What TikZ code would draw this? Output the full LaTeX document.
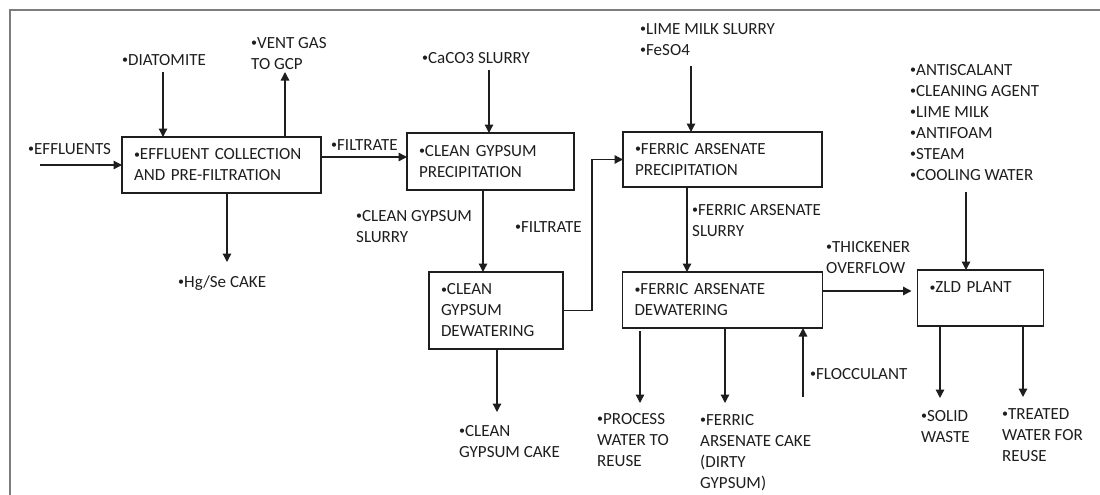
\documentclass[tikz,border=0pt]{standalone}
\usepackage{fontspec}
\setmainfont{Carlito}
\usetikzlibrary{positioning,arrows.meta}
\definecolor{linie}{RGB}{30,30,30}
\definecolor{chenar}{RGB}{125,125,125}
\newcommand{\blt}{{\fontsize{12}{12}\selectfont\raisebox{1.5pt}{•}}}
\tikzset{
  unitbox/.style   = {draw=linie, line width=1.3pt, align=left, text=linie, outer sep=0pt,
                      inner xsep=12pt, inner ysep=3pt, font=\fontsize{17}{21}\selectfont},
  lbl/.style       = {anchor=north west, inner sep=0pt, align=left, text=linie,
                      font=\fontsize{17}{21}\selectfont},
  flow/.style      = {-{Triangle[length=8.5pt,width=8.5pt]}, line width=1.3pt, draw=linie},
  frameline/.style = {draw=chenar, line width=2.5pt}
}
\begin{document}
\begin{tikzpicture}[x=1pt, y=-1pt]
    \fill[white] (0,0) rectangle (1100,495);
    \useasboundingbox (0,0) rectangle (1100,495);
    \draw[frameline] (1100,10) -- (10,10) -- (10,495);

    \node[unitbox, text width=175pt, minimum height=56pt] (b1) at (221.5,165) {\blt EFFLUENT COLLECTION\\ AND PRE-FILTRATION};
    \node[unitbox, text width=143pt, minimum height=57pt, right=86pt of b1, yshift=3.5pt] (b2) {\blt CLEAN GYPSUM\\ PRECIPITATION};
    \node[unitbox, text width=110pt, minimum height=77pt, below=82pt of b2, xshift=5.5pt] (b3) {\blt CLEAN\\ GYPSUM\\ DEWATERING};
    \node[unitbox, text width=175pt, minimum height=55pt, right=49pt of b2, yshift=2pt] (b4) {\blt FERRIC ARSENATE\\ PRECIPITATION};
    \node[unitbox, text width=176pt, minimum height=56pt, below=85pt of b4] (b5) {\blt FERRIC ARSENATE\\ DEWATERING};
    \node[unitbox, text width=102pt, minimum height=56pt, right=95pt of b5, yshift=2pt] (b6) {\blt ZLD PLANT\\ ~};

    \node[lbl] (eff) at (28,143) {\blt EFFLUENTS};
    \node[lbl] (diat) at (122,54) {\blt DIATOMITE};
    \node[lbl] (vent) at (251,37) {\blt VENT GAS\\ TO GCP};
    \node[lbl] (filt1) at (331,139) {\blt FILTRATE};
    \node[lbl] (hgse) at (178,275) {\blt Hg/Se CAKE};
    \node[lbl] (caco) at (422,52) {\blt CaCO3 SLURRY};
    \node[lbl] (cgslurry) at (356,210) {\blt CLEAN GYPSUM\\ SLURRY};
    \node[lbl] (filt2) at (515,221) {\blt FILTRATE};
    \node[lbl] (cgcake) at (459,425) {\blt CLEAN\\ GYPSUM CAKE};
    \node[lbl] (lime) at (640,23) {\blt LIME MILK SLURRY\\ \blt FeSO4};
    \node[lbl] (faslurry) at (692,204) {\blt FERRIC ARSENATE\\ SLURRY};
    \node[lbl] (thick) at (826,241) {\blt THICKENER\\ OVERFLOW};
    \node[lbl] (floc) at (810,368) {\blt FLOCCULANT};
    \node[lbl] (procw) at (597,413) {\blt PROCESS\\ WATER TO\\ REUSE};
    \node[lbl] (facake) at (700,414) {\blt FERRIC\\ ARSENATE CAKE\\ (DIRTY\\ GYPSUM)};
    \node[lbl] (zldin) at (910,64) {\blt ANTISCALANT\\ \blt CLEANING AGENT\\ \blt LIME MILK\\ \blt ANTIFOAM\\ \blt STEAM\\ \blt COOLING WATER};
    \node[lbl] (solid) at (921,410) {\blt SOLID\\ WASTE};
    \node[lbl] (treat) at (1002,408) {\blt TREATED\\ WATER FOR\\ REUSE};

    \coordinate (effIn) at (40,165);
    \coordinate (diatIn) at (163,72);
    \coordinate (ventOut) at (285,72);
    \coordinate (hgOut) at (227,262);
    \coordinate (cacoIn) at (489,70);
    \coordinate (cakeOut) at (497,412);
    \coordinate (limeIn) at (691,66);
    \coordinate (flocIn) at (803,397);
    \coordinate (procOut) at (640,403);
    \coordinate (fcakeOut) at (725,403);
    \coordinate (zldIn) at (966,192);
    \coordinate (solidOut) at (940,398);
    \coordinate (treatOut) at (1023,397);

    \draw[flow] (effIn) -- (b1.west);
    \draw[flow] (diatIn) -- (diatIn |- b1.north);
    \draw[flow] (ventOut |- b1.north) -- (ventOut);
    \draw[flow] ([yshift=8pt]b1.east) -- ([yshift=8pt]b1.east -| b2.west);
    \draw[flow] (hgOut |- b1.south) -- (hgOut);
    \draw[flow] (cacoIn) -- (cacoIn |- b2.north);
    \draw[flow] ([xshift=-7.5pt]b2.south) -- ([xshift=-7.5pt]b2.south |- b3.north);
    \draw[flow] (b3.east) -- ++(29,0) |- (b4.west);
    \draw[flow] (cakeOut |- b3.south) -- (cakeOut);
    \draw[flow] (limeIn) -- (limeIn |- b4.north);
    \draw[flow] ([xshift=-35.5pt]b4.south) -- ([xshift=-35.5pt]b4.south |- b5.north);
    \draw[flow, shorten >=6pt] ([yshift=9pt]b5.east) -- ([yshift=9pt]b5.east -| b6.west);
    \draw[flow] (flocIn) -- (flocIn |- b5.south);
    \draw[flow, shorten <=3pt] (procOut |- b5.south) -- (procOut);
    \draw[flow] (fcakeOut |- b5.south) -- (fcakeOut);
    \draw[flow] (zldIn) -- (zldIn |- b6.north);
    \draw[flow] (solidOut |- b6.south) -- (solidOut);
    \draw[flow] (treatOut |- b6.south) -- (treatOut);
\end{tikzpicture}
\end{document}
